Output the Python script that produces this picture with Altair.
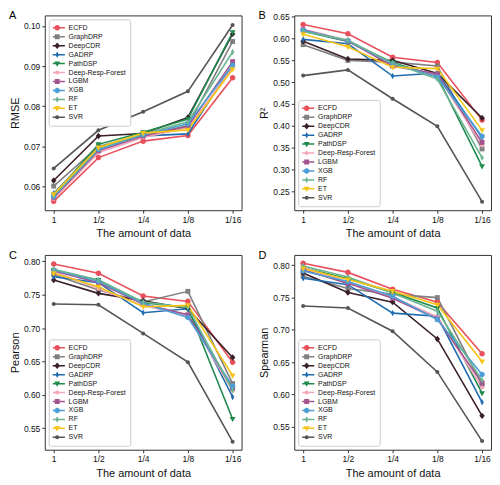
import altair as alt
import pandas as pd

FONT = "Liberation Sans"

models = ["ECFD", "GraphDRP", "DeepCDR", "GADRP", "PathDSP", "Deep-Resp-Forest",
          "LGBM", "XGB", "RF", "ET", "SVR"]
x_labels = ["1", "1/2", "1/4", "1/8", "1/16"]

colors = ["#e8505b", "#808080", "#3a1f29", "#1f6db0", "#1f8a4e", "#f3a7b8",
          "#a3548f", "#4c9fd6", "#6bb591", "#f6c417", "#555555"]

# marker paths (unit box -1..1)
circle = "M0.62,0A0.62,0.62 0 1,1 -0.62,0A0.62,0.62 0 1,1 0.62,0Z"
small_circle = "M0.45,0A0.45,0.45 0 1,1 -0.45,0A0.45,0.45 0 1,1 0.45,0Z"
square = "M-0.55,-0.55H0.55V0.55H-0.55Z"
diamond = "M0,-0.72L0.62,0L0,0.72L-0.62,0Z"
thin_diamond = "M0,-0.72L0.38,0L0,0.72L-0.38,0Z"
tri_down = "M-0.66,-0.45L0.66,-0.45L0,0.7Z"
hexagon = "M0,-0.66L0.57,-0.33L0.57,0.33L0,0.66L-0.57,0.33L-0.57,-0.33Z"
shapes = [circle, square, diamond, thin_diamond, tri_down, small_circle,
          square, hexagon, thin_diamond, tri_down, small_circle]

rmse = {
    "ECFD":             [0.0563, 0.0672, 0.0713, 0.0727, 0.0871],
    "GraphDRP":         [0.0601, 0.0700, 0.0728, 0.0751, 0.0961],
    "DeepCDR":          [0.0615, 0.0726, 0.0732, 0.0772, 0.0980],
    "GADRP":            [0.0583, 0.0697, 0.0726, 0.0731, 0.0903],
    "PathDSP":          [0.0579, 0.0705, 0.0735, 0.0768, 0.0984],
    "Deep-Resp-Forest": [0.0569, 0.0684, 0.0722, 0.0746, 0.0896],
    "LGBM":             [0.0573, 0.0689, 0.0726, 0.0750, 0.0911],
    "XGB":              [0.0575, 0.0692, 0.0729, 0.0756, 0.0902],
    "RF":               [0.0577, 0.0695, 0.0731, 0.0761, 0.0935],
    "ET":               [0.0581, 0.0697, 0.0733, 0.0741, 0.0892],
    "SVR":              [0.0645, 0.0740, 0.0786, 0.0837, 0.1002],
}
r2 = {
    "ECFD":             [0.632, 0.611, 0.557, 0.545, 0.413],
    "GraphDRP":         [0.586, 0.550, 0.546, 0.537, 0.347],
    "DeepCDR":          [0.594, 0.553, 0.550, 0.520, 0.418],
    "GADRP":            [0.598, 0.588, 0.514, 0.521, 0.373],
    "PathDSP":          [0.617, 0.593, 0.545, 0.513, 0.307],
    "Deep-Resp-Forest": [0.621, 0.596, 0.539, 0.517, 0.355],
    "LGBM":             [0.620, 0.594, 0.537, 0.519, 0.362],
    "XGB":              [0.619, 0.595, 0.542, 0.512, 0.376],
    "RF":               [0.616, 0.596, 0.544, 0.507, 0.327],
    "ET":               [0.610, 0.581, 0.534, 0.531, 0.390],
    "SVR":              [0.515, 0.528, 0.462, 0.399, 0.226],
}
pearson = {
    "ECFD":             [0.796, 0.782, 0.748, 0.740, 0.649],
    "GraphDRP":         [0.780, 0.757, 0.739, 0.755, 0.617],
    "DeepCDR":          [0.772, 0.752, 0.741, 0.729, 0.656],
    "GADRP":            [0.777, 0.768, 0.723, 0.729, 0.597],
    "PathDSP":          [0.786, 0.772, 0.738, 0.731, 0.564],
    "Deep-Resp-Forest": [0.785, 0.759, 0.734, 0.719, 0.606],
    "LGBM":             [0.786, 0.768, 0.736, 0.720, 0.610],
    "XGB":              [0.787, 0.770, 0.737, 0.716, 0.613],
    "RF":               [0.788, 0.772, 0.739, 0.731, 0.607],
    "ET":               [0.782, 0.762, 0.732, 0.734, 0.629],
    "SVR":              [0.736, 0.735, 0.692, 0.649, 0.530],
}
spearman = {
    "ECFD":             [0.803, 0.789, 0.763, 0.743, 0.663],
    "GraphDRP":         [0.783, 0.764, 0.755, 0.750, 0.615],
    "DeepCDR":          [0.788, 0.758, 0.743, 0.686, 0.567],
    "GADRP":            [0.780, 0.770, 0.726, 0.721, 0.588],
    "PathDSP":          [0.796, 0.779, 0.758, 0.734, 0.602],
    "Deep-Resp-Forest": [0.797, 0.774, 0.751, 0.720, 0.611],
    "LGBM":             [0.793, 0.772, 0.749, 0.717, 0.618],
    "XGB":              [0.791, 0.775, 0.752, 0.716, 0.631],
    "RF":               [0.799, 0.782, 0.757, 0.729, 0.622],
    "ET":               [0.795, 0.778, 0.760, 0.739, 0.651],
    "SVR":              [0.737, 0.734, 0.698, 0.635, 0.528],
}

W, H = 198, 196
SYM = 81
ROW = 9
LEG_PAD = 4
LEG_H = 11 * ROW + 2 * LEG_PAD

# keys for the marker legend (kept distinct from the line legend's keys)
models_p = [m + " " for m in models]


def panel(letter, ytitle, values, domain, ticks, legend_top):
    rows = []
    for m, mp in zip(models, models_p):
        for xl, v in zip(x_labels, values[m]):
            rows.append({"model": m, "model_p": mp, "x": xl, "v": v})
    df = pd.DataFrame(rows)
    base = alt.Chart(df)
    xenc = alt.X("x:N", sort=x_labels,
                 scale=alt.Scale(type="point", padding=0.2),
                 axis=alt.Axis(title="The amount of data", labelAngle=0))
    yenc = alt.Y("v:Q", scale=alt.Scale(domain=domain, nice=False, zero=False),
                 axis=alt.Axis(title=ytitle, values=ticks, format=".2f"))
    lx = 4
    ly = 4 if legend_top else H - 4 - LEG_H
    common = dict(orient="none", legendX=lx, legendY=ly, title=None,
                  symbolSize=SYM, labelFontSize=7, labelFont=FONT,
                  rowPadding=0, padding=LEG_PAD, labelOffset=5, labelLimit=200,
                  clipHeight=ROW)
    line_leg = alt.Legend(symbolType="M-1.5,0H1.5", symbolStrokeWidth=1.5,
                          strokeColor="#cccccc", fillColor="white",
                          cornerRadius=2, zindex=1, labelColor="#111", **common)
    pt_leg = alt.Legend(labelExpr="''", zindex=2, symbolStrokeWidth=0, **common)
    lines = base.mark_line(strokeWidth=1.6).encode(
        x=xenc, y=yenc,
        stroke=alt.Stroke("model:N", sort=models,
                          scale=alt.Scale(domain=models, range=colors),
                          legend=line_leg),
    )
    pts = base.mark_point(filled=True, size=SYM, opacity=1).encode(
        x=xenc, y=yenc,
        fill=alt.Fill("model_p:N", sort=models_p,
                      scale=alt.Scale(domain=models_p, range=colors),
                      legend=pt_leg),
        shape=alt.Shape("model_p:N", sort=models_p,
                        scale=alt.Scale(domain=models_p, range=shapes),
                        legend=pt_leg),
    )
    lab = alt.Chart(pd.DataFrame({"t": [letter]})).mark_text(
        align="left", baseline="middle", fontSize=11, font=FONT, color="black"
    ).encode(text="t:N", x=alt.value(-36), y=alt.value(1))
    return alt.layer(lines, pts, lab).properties(width=W, height=H)


pA = panel("A", "RMSE", rmse, [0.0541, 0.1026],
           [0.06, 0.07, 0.08, 0.09, 0.10], True)
pB = panel("B", "R²", r2, [0.2065, 0.653],
           [0.25, 0.30, 0.35, 0.40, 0.45, 0.50, 0.55, 0.60, 0.65], False)
pC = panel("C", "Pearson", pearson, [0.518, 0.8095],
           [0.55, 0.60, 0.65, 0.70, 0.75, 0.80], False)
pD = panel("D", "Spearman", spearman, [0.5146, 0.816],
           [0.55, 0.60, 0.65, 0.70, 0.75, 0.80], False)

chart = alt.concat(pA, pB, pC, pD, columns=2,
                   spacing={"row": 10, "column": 15}).resolve_scale(
    stroke="independent", fill="independent", shape="independent"
).resolve_legend(
    stroke="independent", fill="independent", shape="independent"
).properties(padding=0).configure_axis(
    labelFont=FONT, titleFont=FONT, labelFontSize=8.5, titleFontSize=11,
    titleFontWeight="normal", labelColor="#111", titleColor="#111",
    tickColor="#333", tickSize=3, domain=False, grid=False,
    labelPadding=2, titlePadding=3,
).configure_axisX(titlePadding=4).configure_view(
    stroke="#333", strokeWidth=1
)

chart.save("out.html", embed_options={"renderer": "svg", "actions": False})
